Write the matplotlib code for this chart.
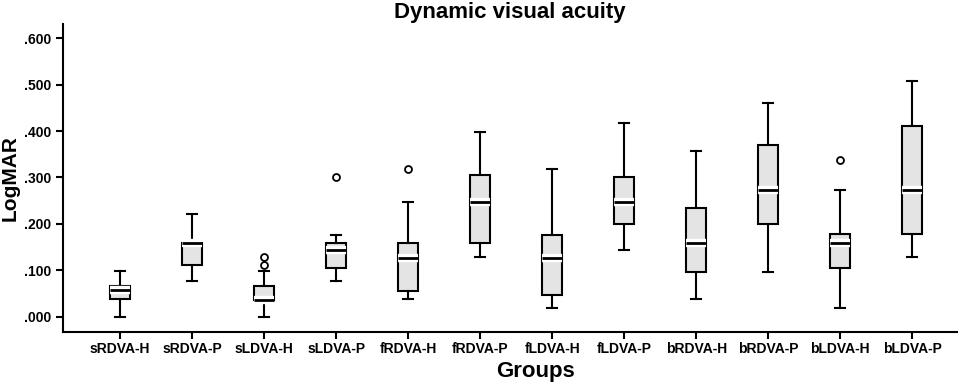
import numpy as np
import matplotlib.pyplot as plt
import matplotlib.patheffects as pe

plt.rcParams['font.family'] = ['Liberation Sans', 'DejaVu Sans']
plt.rcParams['font.weight'] = 'bold'

groups = ['sRDVA-H', 'sRDVA-P', 'sLDVA-H', 'sLDVA-P', 'fRDVA-H', 'fRDVA-P',
          'fLDVA-H', 'fLDVA-P', 'bRDVA-H', 'bRDVA-P', 'bLDVA-H', 'bLDVA-P']

# box stats (LogMAR)
whislo = [0.000, 0.077, 0.000, 0.077, 0.037, 0.128, 0.019, 0.144, 0.037, 0.097, 0.019, 0.128]
q1     = [0.037, 0.112, 0.035, 0.105, 0.056, 0.159, 0.047, 0.199, 0.097, 0.199, 0.105, 0.179]
med    = [0.057, 0.159, 0.035, 0.144, 0.127, 0.247, 0.127, 0.247, 0.159, 0.273, 0.159, 0.273]
q3     = [0.067, 0.159, 0.067, 0.159, 0.159, 0.305, 0.176, 0.301, 0.235, 0.369, 0.179, 0.411]
whishi = [0.098, 0.222, 0.098, 0.176, 0.247, 0.398, 0.319, 0.418, 0.357, 0.460, 0.273, 0.509]
fliers = [[], [], [0.111, 0.128], [0.301], [0.319], [], [], [], [], [], [0.337], []]

stats = []
for i in range(len(groups)):
    stats.append(dict(label=groups[i], whislo=whislo[i], q1=q1[i], med=med[i],
                      q3=q3[i], whishi=whishi[i], fliers=fliers[i]))

fig = plt.figure(figsize=(9.6, 3.86), dpi=100)
ax = fig.add_axes([0.066, 0.14, 0.9306, 0.798])

pos = np.arange(1, len(groups) + 1)
bp = ax.bxp(stats, positions=pos, widths=0.28, patch_artist=True,
            boxprops=dict(facecolor='#e4e4e4', edgecolor='black', linewidth=1.5),
            medianprops=dict(color='black', linewidth=2),
            whiskerprops=dict(color='black', linewidth=1.5),
            capprops=dict(color='black', linewidth=1.5),
            flierprops=dict(marker='o', markersize=5, markerfacecolor='white',
                            markeredgecolor='black', markeredgewidth=1.3))
for b in bp['boxes']:
    b.set_path_effects([pe.Stroke(linewidth=8, foreground='white'), pe.Normal()])
for m in bp['medians']:
    m.set_path_effects([pe.Stroke(linewidth=6, foreground='white'), pe.Normal()])

ax.set_xlim(0.21, 12.62)
ax.set_ylim(-0.033, 0.631)
ax.set_yticks(np.arange(0, 0.61, 0.1))
ax.set_yticklabels(['.000', '.100', '.200', '.300', '.400', '.500', '.600'])
ax.set_xticks(pos)
ax.set_xticklabels(groups)
ax.tick_params(axis='both', labelsize=10, width=1.5, length=5)
ax.tick_params(axis='x', pad=2)

for s in ['top', 'right']:
    ax.spines[s].set_visible(False)
for s in ['left', 'bottom']:
    ax.spines[s].set_linewidth(1.5)

ax.set_title('Dynamic visual acuity', fontsize=16, fontweight='bold', pad=4)
ax.set_ylabel('LogMAR', fontsize=15, fontweight='bold')
ax.set_xlabel('Groups', fontsize=16, fontweight='bold')
ax.yaxis.set_label_coords(-0.049, 0.5)
ax.xaxis.set_label_coords(0.528, -0.095)

fig.savefig('out.png', dpi=100)
